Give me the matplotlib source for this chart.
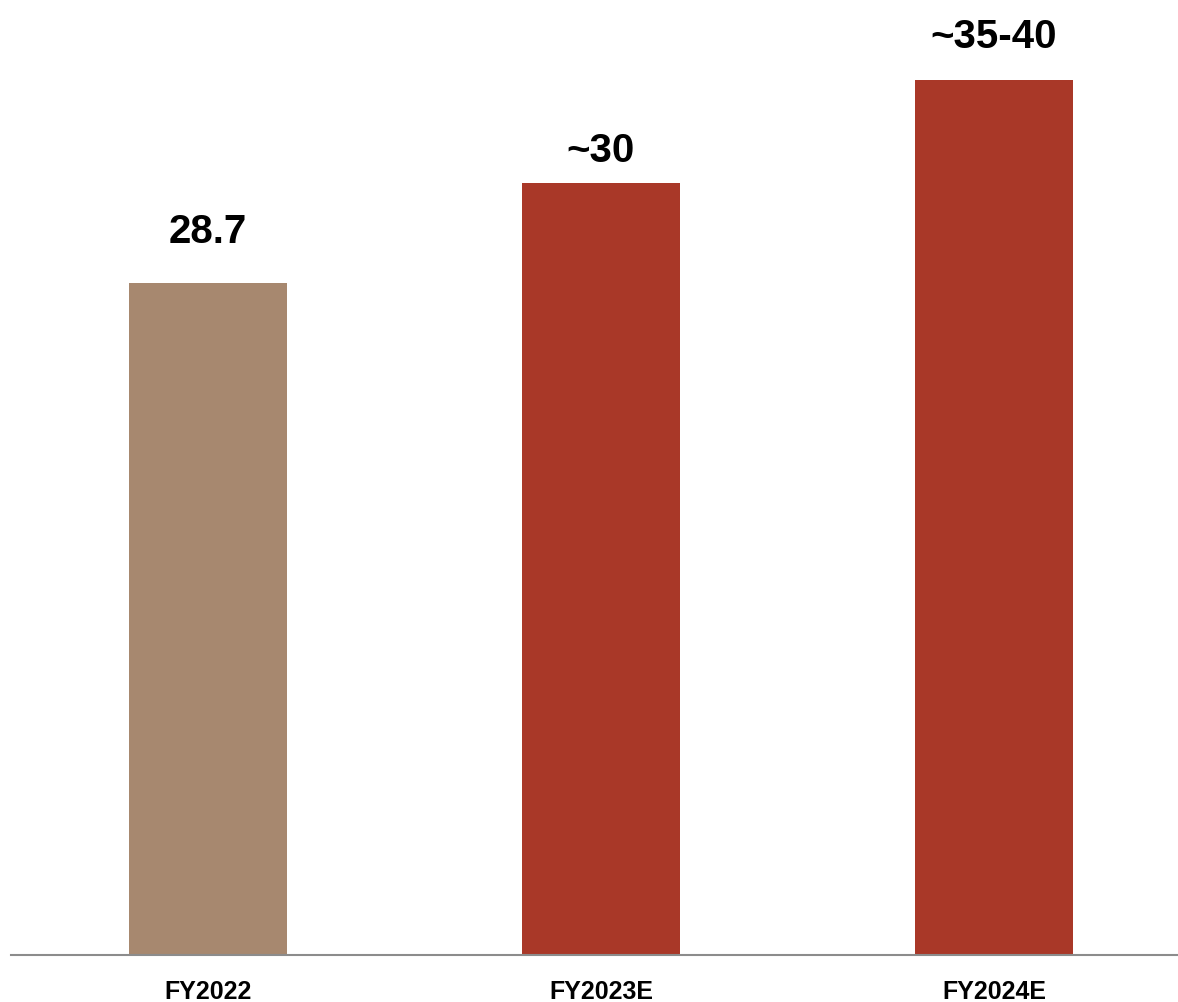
import matplotlib.pyplot as plt

# data (bar heights, labels as printed)
years = ["FY2022", "FY2023E", "FY2024E"]
heights = [28.7, 33.0, 37.4]
labels = ["28.7", "~30", "~35-40"]
colors = ["#A7886F", "#A93828", "#A93828"]

plt.rcParams['font.family'] = ['Liberation Sans', 'DejaVu Sans']

fig = plt.figure(figsize=(11.78, 10.02), dpi=100)
ax = fig.add_axes([11 / 1178, (1002 - 955) / 1002, 1167 / 1178, 955 / 1002])

x = range(len(years))
bars = ax.bar(x, heights, width=0.402, color=colors)

# gap between bar top and label baseline differs a bit per bar in the original
gaps = [29, 14.5, 23]
for bar, lab, gap in zip(bars, labels, gaps):
    ax.annotate(lab, (bar.get_x() + bar.get_width() / 2, bar.get_height()),
                xytext=(0, gap), textcoords='offset points',
                ha='center', va='baseline', fontsize=29, fontweight='bold',
                annotation_clip=False)

ax.set_xlim(-0.501, 2.468)
ax.set_ylim(0, 40.8)
ax.set_xticks(list(x))
ax.set_xticklabels(years, fontsize=18, fontweight='bold')
ax.tick_params(axis='x', length=0, pad=18)
ax.set_yticks([])

for side in ['top', 'right', 'left']:
    ax.spines[side].set_visible(False)
ax.spines['bottom'].set_color('#8c8c8c')
ax.spines['bottom'].set_linewidth(1.5)

fig.savefig("out.png", dpi=100)
